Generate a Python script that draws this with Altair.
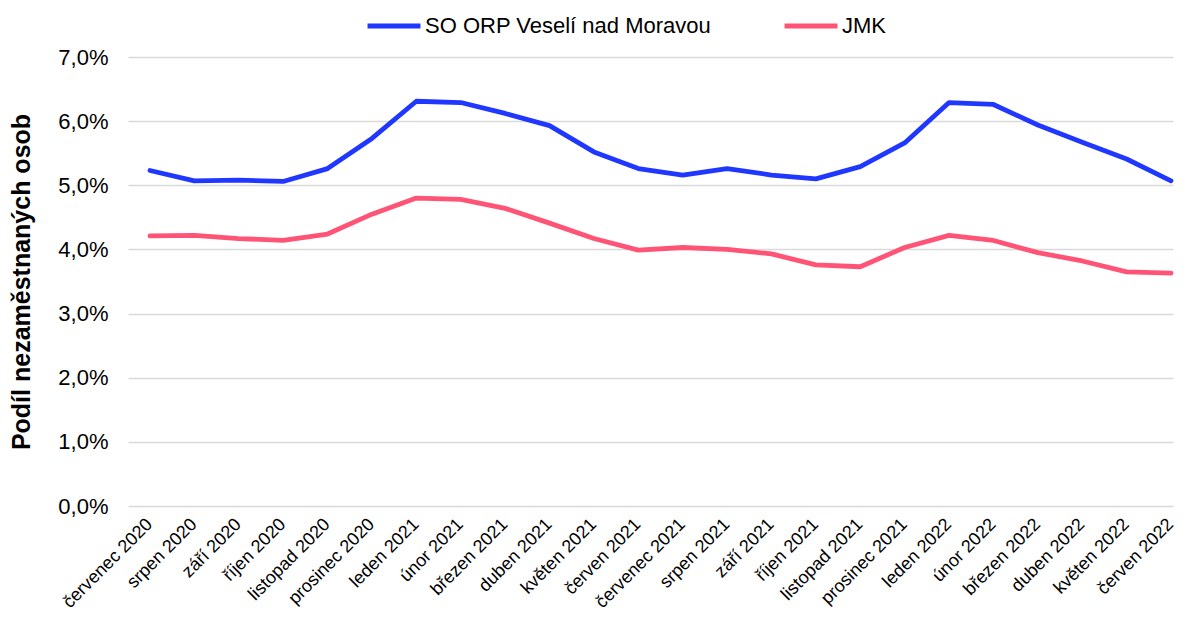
import altair as alt
import pandas as pd

months = [
    "červenec 2020", "srpen 2020", "září 2020", "říjen 2020", "listopad 2020",
    "prosinec 2020", "leden 2021", "únor 2021", "březen 2021", "duben 2021",
    "květen 2021", "červen 2021", "červenec 2021", "srpen 2021", "září 2021",
    "říjen 2021", "listopad 2021", "prosinec 2021", "leden 2022", "únor 2022",
    "březen 2022", "duben 2022", "květen 2022", "červen 2022",
]
so_orp = [5.23, 5.07, 5.08, 5.06, 5.26, 5.73, 6.31, 6.29, 6.12, 5.93, 5.52, 5.26,
          5.16, 5.26, 5.16, 5.10, 5.29, 5.66, 6.29, 6.26, 5.94, 5.67, 5.41, 5.07]
jmk = [4.21, 4.22, 4.17, 4.14, 4.24, 4.55, 4.80, 4.78, 4.64, 4.41, 4.17, 3.99,
       4.03, 4.00, 3.93, 3.76, 3.73, 4.03, 4.22, 4.14, 3.95, 3.82, 3.65, 3.63]
series_names = ["SO ORP Veselí nad Moravou", "JMK"]
colors = ["#1F37FF", "#FF5476"]
y_ticks = [0, 0.01, 0.02, 0.03, 0.04, 0.05, 0.06, 0.07]

rows = []
for m, a, b in zip(months, so_orp, jmk):
    rows.append({"mesic": m, "serie": series_names[0], "hodnota": a / 100})
    rows.append({"mesic": m, "serie": series_names[1], "hodnota": b / 100})
df = pd.DataFrame(rows)

chart = alt.Chart(df).mark_line(
    strokeWidth=4.8, strokeCap="round", strokeJoin="round"
).encode(
    x=alt.X(
        "mesic:N", sort=months,
        scale=alt.Scale(type="point", padding=0.27, align=0.917),
        axis=alt.Axis(title=None, labelAngle=-45, labelFontSize=18, ticks=False,
                      domain=False, grid=False, labelPadding=9, labelOffset=-7,
                      labelColor="#000000", labelLimit=300),
    ),
    y=alt.Y(
        "hodnota:Q",
        scale=alt.Scale(domain=[0, 0.07]),
        axis=alt.Axis(
            title="Podíl nezaměstnaných osob", values=y_ticks,
            labelExpr="replace(format(datum.value, '.1%'), '.', ',')",
            labelFontSize=22, labelColor="#000000", labelPadding=20,
            ticks=False, domain=False, gridColor="#d9d9d9", gridWidth=1.5,
            titleFontSize=25, titleFontWeight="bold", titleColor="#000000",
            titlePadding=23,
        ),
    ),
    color=alt.Color(
        "serie:N",
        scale=alt.Scale(domain=series_names, range=colors),
        legend=alt.Legend(
            title=None, orient="none", direction="horizontal",
            legendX=237, legendY=-60, symbolType="stroke", symbolSize=2800,
            symbolStrokeWidth=5, labelFontSize=22, labelColor="#000000",
            columnPadding=62, labelOffset=2, labelLimit=500,
        ),
    ),
).properties(
    width=1045, height=449,
    autosize=alt.AutoSizeParams(type="none"),
    padding={"left": 120, "top": 49, "right": 4, "bottom": 113},
).configure(
    font="Liberation Sans",
).configure_view(stroke=None)

chart.save("out.html", embed_options={"renderer": "svg", "actions": False})
